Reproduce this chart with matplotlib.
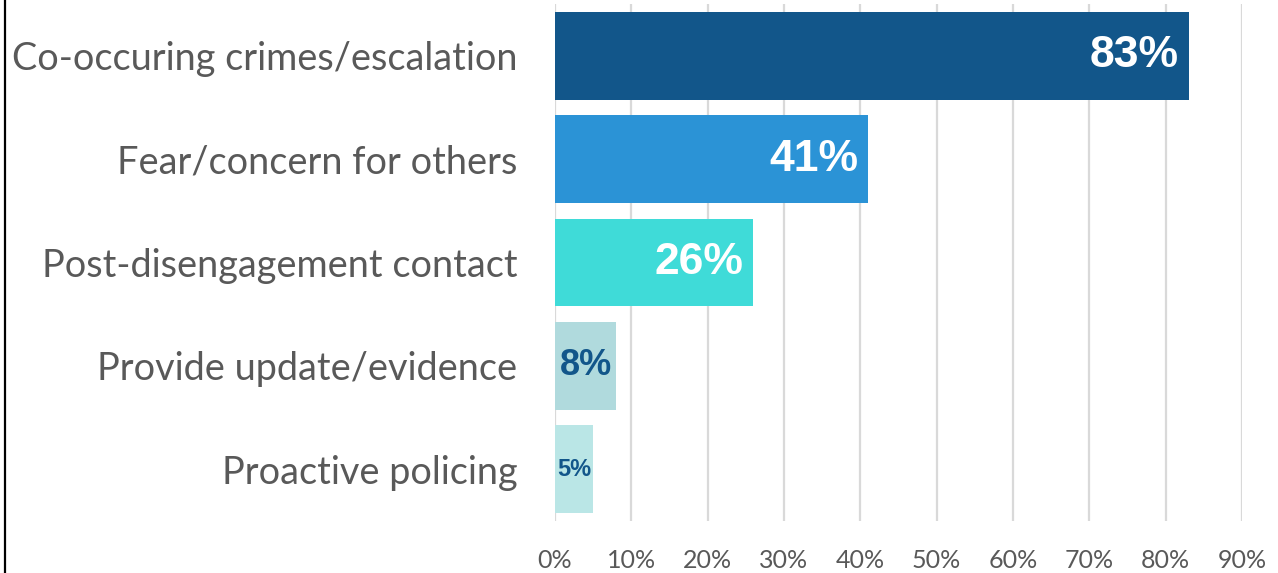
import matplotlib.pyplot as plt
from matplotlib.lines import Line2D

categories = ["Co-occuring crimes/escalation", "Fear/concern for others",
              "Post-disengagement contact", "Provide update/evidence",
              "Proactive policing"]
values = [83, 41, 26, 8, 5]
bar_colors = ["#12568A", "#2B93D6", "#3FDBD8", "#B0DADD", "#BAE6E6"]
label_colors = ["white", "white", "white", "#12568A", "#12568A"]
label_sizes = [32, 32, 32, 26, 17]
xticks = [0, 10, 20, 30, 40, 50, 60, 70, 80, 90]

fig = plt.figure(figsize=(12.78, 5.73), dpi=100)
ax = fig.add_axes([555 / 1278, 1 - 521 / 573, 687 / 1278, 517 / 573])

y = list(range(len(categories)))
ax.barh(y, values, height=0.85, color=bar_colors, zorder=3)

for yi, v, c, s in zip(y, values, label_colors, label_sizes):
    if v >= 20:
        ax.annotate(f"{v}%", (v, yi), xytext=(-7, 0), textcoords="offset points",
                    ha="right", va="center", color=c, fontsize=s,
                    fontweight="bold", family="Liberation Sans", zorder=4)
    else:
        ax.text(v / 2, yi, f"{v}%", ha="center", va="center", color=c,
                fontsize=s, fontweight="bold", family="Liberation Sans", zorder=4)

ax.set_xlim(0, 90)
ax.set_ylim(len(categories) - 0.5, -0.5)
ax.set_xticks(xticks)
ax.set_xticklabels([f"{t}%" for t in xticks], fontsize=18, color="#595959",
                   family="Lato")
ax.set_yticks(y)
ax.set_yticklabels(categories, fontsize=27.3, color="#595959", family="Lato")
ax.tick_params(axis="both", length=0)
ax.tick_params(axis="y", pad=27)
ax.tick_params(axis="x", pad=20)
ax.grid(axis="x", color="#D9D9D9", linewidth=1.6, zorder=0)
for sp in ax.spines.values():
    sp.set_visible(False)

fig.add_artist(Line2D([5 / 1278, 5 / 1278], [0, 1], color="black",
                      linewidth=1.6, transform=fig.transFigure))

fig.savefig("out.png", dpi=100)
